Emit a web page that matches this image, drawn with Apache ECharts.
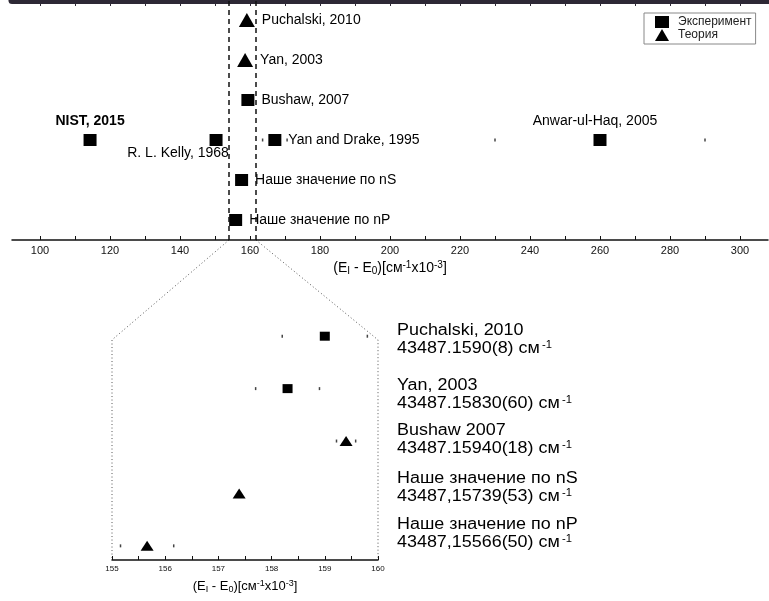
<!DOCTYPE html>
<html>
<head>
<meta charset="utf-8">
<title>Энергия ионизации</title>
<script src="https://cdn.jsdelivr.net/npm/echarts@6/dist/echarts.min.js"></script>
<style>
  html, body { margin: 0; padding: 0; background: #fff; }
  #chart { width: 769px; height: 601px; }
</style>
</head>
<body>
<div id="chart"></div>
<script>
// верхний график: (E_I - E_0), см^-1 x10^-3 (сверх 43487 см^-1)
const topNames = ['Puchalski, 2010', 'Yan, 2003', 'Bushaw, 2007', 'NIST, 2015', 'R. L. Kelly, 1968',
  'Yan and Drake, 1995', 'Anwar-ul-Haq, 2005', 'Наше значение по nS', 'Наше значение по nP']
const topValues = [159.1, 158.6, 159.4, 114.3, 150.3, 167.1, 260.0, 157.6, 155.9]
const topRows = [6, 5, 4, 3, 3, 3, 3, 2, 1]
const topKinds = ['theory', 'theory', 'exp', 'exp', 'exp', 'exp', 'exp', 'exp', 'exp']
const topErrors = [0, 0, 0, 0, 0, 3.5, 30, 0, 0]
const topTicks = [100, 110, 120, 130, 140, 150, 160, 170, 180, 190, 200, 210, 220, 230, 240, 250, 260, 270, 280, 290, 300]
const topTickLabels = [100, 120, 140, 160, 180, 200, 220, 240, 260, 280, 300]
const zoomMarks = [154.0, 161.7]

// нижний график (увеличенный участок)
const bottomNames = ['Puchalski, 2010', 'Yan, 2003', 'Bushaw 2007', 'Наше значение по nS', 'Наше значение по nP']
const bottomValues = [159.0, 158.3, 159.4, 157.39, 155.66]
const bottomRows = [5, 4, 3, 2, 1]
const bottomKinds = ['exp', 'exp', 'theory', 'theory', 'theory']
const bottomErrors = [0.8, 0.6, 0.18, 0, 0.5]
const bottomCaptions = ['43487.1590(8)', '43487.15830(60)', '43487.15940(18)', '43487,15739(53)', '43487,15566(50)']
const bottomTickLabels = [155, 156, 157, 158, 159, 160]

// раскладка подписей
const topLabelSide = ['right', 'right', 'right', 'topBold', 'belowLeft', 'right', 'top', 'right', 'right']
const captionPos = [[397, 323], [397, 378], [397, 423], [397, 471], [397, 517]]

const font = 'Liberation Sans, Arial, sans-serif'
const chart = echarts.init(document.getElementById('chart'))

function labelFor (side) {
  let base = { show: true, formatter: '{b}', color: '#000', fontSize: 14, fontFamily: font }
  if (side === 'right') return Object.assign(base, { position: 'right', distance: 7 })
  if (side === 'top') return Object.assign(base, { position: 'top', distance: 6, offset: [-5, 0] })
  if (side === 'topBold') return Object.assign(base, { position: 'top', distance: 6, fontWeight: 'bold' })
  return Object.assign(base, { position: 'bottom', distance: 0, offset: [-38, 0] })
}

function points (names, values, rows, kinds, kind, withLabels) {
  let out = []
  names.forEach((n, i) => {
    if (kinds[i] !== kind) return
    let item = { name: n, value: [values[i], rows[i]] }
    if (withLabels) item.label = labelFor(topLabelSide[i])
    out.push(item)
  })
  return out
}

function errorEnds (values, rows, errors) {
  let out = []
  values.forEach((v, i) => {
    if (!errors[i]) return
    out.push([v - errors[i], rows[i]], [v + errors[i], rows[i]])
  })
  return out
}

const axisName = '(E{sub|I} - E{sub|0})[см{sup|-1}x10{sup|-3}]'
const nameStyle = (size, small) => ({
  color: '#000', fontSize: size, fontFamily: font,
  rich: {
    sub: { fontSize: small, fontFamily: font, color: '#000', padding: [6, 0, 0, 0] },
    sup: { fontSize: small, fontFamily: font, color: '#000', padding: [0, 0, 6, 0] }
  }
})

let captions = bottomNames.map((n, i) => ({
  type: 'text',
  left: captionPos[i][0],
  top: captionPos[i][1],
  scaleX: 1.12,
  style: {
    text: '{t|' + n + '}\n{t|' + bottomCaptions[i] + ' см}{s|-1}',
    rich: {
      t: { fontSize: 16, lineHeight: 18, fontFamily: font, fill: '#000' },
      s: { fontSize: 10, lineHeight: 18, fontFamily: font, fill: '#000', padding: [0, 0, 8, 2] }
    }
  }
}))

const black = { color: '#000', opacity: 1 }

let option = {
  animation: false,
  backgroundColor: '#fff',
  legend: {
    data: ['Эксперимент', 'Теория'],
    orient: 'vertical',
    left: 644,
    top: 13,
    padding: [3, 4, 3, 11],
    itemGap: 1,
    itemWidth: 14,
    itemHeight: 12,
    borderColor: '#888',
    borderWidth: 1,
    borderRadius: 0,
    textStyle: { fontSize: 12, color: '#222', fontFamily: font, padding: [0, 0, 0, 4] }
  },
  grid: [
    { left: 12, width: 756, top: 0, height: 240 },
    { left: 112, width: 266, top: 310, height: 250 }
  ],
  xAxis: [{
    gridIndex: 0,
    type: 'value',
    min: 92,
    max: 308,
    name: axisName,
    nameLocation: 'middle',
    nameGap: 20,
    nameTextStyle: nameStyle(14, 10),
    axisLine: { onZero: false, lineStyle: { color: '#111', width: 1.5 } },
    axisTick: { inside: true, length: 4, customValues: topTicks, lineStyle: { color: '#111' } },
    axisLabel: { customValues: topTickLabels, color: '#111', fontSize: 11, margin: 5, fontFamily: font },
    splitLine: { show: false }
  }, {
    // тёмная полоса сверху (обрезанная рамка)
    gridIndex: 0,
    type: 'value',
    position: 'top',
    min: 92,
    max: 308,
    axisLine: { onZero: false, lineStyle: { color: '#2d2835', width: 7 } },
    axisTick: { inside: true, length: 6, customValues: topTicks, lineStyle: { color: '#2d2835' } },
    axisLabel: { show: false },
    splitLine: { show: false }
  }, {
    gridIndex: 1,
    type: 'value',
    min: 155,
    max: 160,
    interval: 0.5,
    name: axisName,
    nameLocation: 'middle',
    nameGap: 19,
    nameTextStyle: nameStyle(13, 9),
    axisLine: { onZero: false, lineStyle: { color: '#111', width: 1.5 } },
    axisTick: { inside: true, length: 4, lineStyle: { color: '#111' } },
    axisLabel: { customValues: bottomTickLabels, color: '#111', fontSize: 8, margin: 5, fontFamily: font },
    splitLine: { show: false }
  }],
  yAxis: [
    { gridIndex: 0, type: 'value', min: 0.5, max: 6.5, show: false },
    { gridIndex: 1, type: 'value', min: 0.73, max: 5.5, show: false }
  ],
  series: [{
    name: 'Эксперимент',
    type: 'scatter',
    xAxisIndex: 0,
    yAxisIndex: 0,
    symbol: 'rect',
    symbolSize: [13, 12],
    itemStyle: black,
    data: points(topNames, topValues, topRows, topKinds, 'exp', true),
    markLine: {
      silent: true,
      symbol: ['none', 'none'],
      label: { show: false },
      lineStyle: { type: [5, 4], color: '#111', width: 1.5 },
      data: zoomMarks.map(v => ({ xAxis: v }))
    }
  }, {
    name: 'Теория',
    type: 'scatter',
    xAxisIndex: 0,
    yAxisIndex: 0,
    symbol: 'triangle',
    symbolSize: [16, 14],
    itemStyle: black,
    data: points(topNames, topValues, topRows, topKinds, 'theory', true)
  }, {
    name: 'Эксперимент',
    type: 'scatter',
    xAxisIndex: 2,
    yAxisIndex: 1,
    symbol: 'rect',
    symbolSize: [10, 9],
    itemStyle: black,
    data: points(bottomNames, bottomValues, bottomRows, bottomKinds, 'exp', false)
  }, {
    name: 'Теория',
    type: 'scatter',
    xAxisIndex: 2,
    yAxisIndex: 1,
    symbol: 'triangle',
    symbolSize: [13, 10],
    itemStyle: black,
    data: points(bottomNames, bottomValues, bottomRows, bottomKinds, 'theory', false)
  }, {
    name: 'errTop',
    type: 'scatter',
    xAxisIndex: 0,
    yAxisIndex: 0,
    symbol: 'rect',
    symbolSize: [1.5, 3],
    itemStyle: { color: '#444', opacity: 1 },
    data: errorEnds(topValues, topRows, topErrors)
  }, {
    name: 'errBottom',
    type: 'scatter',
    xAxisIndex: 2,
    yAxisIndex: 1,
    symbol: 'rect',
    symbolSize: [1.5, 3],
    itemStyle: { color: '#444', opacity: 1 },
    data: errorEnds(bottomValues, bottomRows, bottomErrors)
  }],
  graphic: captions
}

chart.setOption(option)

// пунктир увеличения: от верхней оси к рамке нижнего графика
const boxTop = 4.93
let lines = [0, 1].map(k => {
  let a = chart.convertToPixel({ seriesIndex: 0 }, [zoomMarks[k], 0.5])
  let b = chart.convertToPixel({ seriesIndex: 2 }, [bottomTickLabels[k * 5], boxTop])
  let c = chart.convertToPixel({ seriesIndex: 2 }, [bottomTickLabels[k * 5], 0.73])
  return {
    type: 'polyline',
    silent: true,
    shape: { points: [a, b, c] },
    style: { stroke: '#555', lineWidth: 1, lineDash: [1, 2.5], fill: null }
  }
})
option.graphic = captions.concat(lines)
chart.setOption(option, true)
</script>
</body>
</html>
